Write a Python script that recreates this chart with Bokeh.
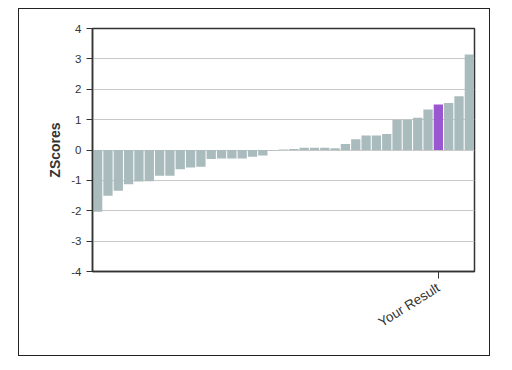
from bokeh.plotting import figure
from bokeh.models import FixedTicker, Range1d
from bokeh.embed import file_html
from bokeh.resources import INLINE

# Data
zscores = [-2.03, -1.51, -1.34, -1.13, -1.04, -1.03, -0.85, -0.85, -0.63, -0.58,
           -0.55, -0.30, -0.28, -0.28, -0.28, -0.22, -0.18, -0.02, 0.02, 0.03,
           0.07, 0.07, 0.07, 0.06, 0.20, 0.35, 0.48, 0.48, 0.53, 1.00,
           1.00, 1.06, 1.33, 1.50, 1.55, 1.77, 3.14]
your_index = 33
tick_label = "Your Result"
y_ticks = [-4, -3, -2, -1, 0, 1, 2, 3, 4]
y_tick_labels = ["-4", "-3", "-2", "-1", "0", "1", "2", "3", "4"]

positions = list(range(len(zscores)))
colors = ["#9b57cf" if i == your_index else "#aabbbe" for i in positions]

p = figure(width=472, height=348, output_backend="svg", toolbar_location=None,
           x_range=Range1d(-0.5, len(zscores) - 0.5), y_range=Range1d(-4, 4),
           min_border_left=73, min_border_right=17, min_border_top=19, min_border_bottom=86)
p.margin = (8, 0, 0, 18)
p.styles = {"border": "1px solid #222"}

p.vbar(x=positions, top=zscores, bottom=0, width=0.9, fill_color=colors, line_color=None)

p.outline_line_color = "#333333"
p.outline_line_width = 1.5
p.xgrid.visible = False
p.ygrid.ticker = FixedTicker(ticks=y_ticks)
p.ygrid.grid_line_color = "#c8c8c8"
p.ygrid.grid_line_width = 1

p.yaxis.ticker = FixedTicker(ticks=y_ticks)
p.yaxis.major_label_overrides = dict(zip(y_ticks, y_tick_labels))
p.yaxis.axis_label = "ZScores"
p.yaxis.axis_label_text_font = "Liberation Sans"
p.yaxis.axis_label_text_font_style = "bold"
p.yaxis.axis_label_text_font_size = "14px"
p.yaxis.axis_label_text_color = "#333333"
p.yaxis.axis_label_standoff = 5
p.yaxis.major_label_text_font = "Liberation Sans"
p.yaxis.major_label_text_font_size = "11.5px"
p.yaxis.major_label_text_color = "#333333"
p.yaxis.axis_line_color = "#333333"
p.yaxis.axis_line_width = 1.5
p.yaxis.major_tick_line_color = "#333333"
p.yaxis.major_tick_out = 6
p.yaxis.major_tick_in = 0
p.yaxis.minor_tick_line_color = None

p.xaxis.ticker = FixedTicker(ticks=[your_index])
p.xaxis.major_label_overrides = {your_index: tick_label}
p.xaxis.major_label_orientation = 0.56
p.xaxis.major_label_standoff = 8
p.xaxis.major_label_text_font = "Liberation Sans"
p.xaxis.major_label_text_font_size = "13.5px"
p.xaxis.major_label_text_color = "#333333"
p.xaxis.axis_line_color = "#333333"
p.xaxis.axis_line_width = 1.5
p.xaxis.major_tick_line_color = "#333333"
p.xaxis.major_tick_out = 7
p.xaxis.major_tick_in = 0
p.xaxis.minor_tick_line_color = None

open("out.html", "w").write(file_html(p, INLINE))
